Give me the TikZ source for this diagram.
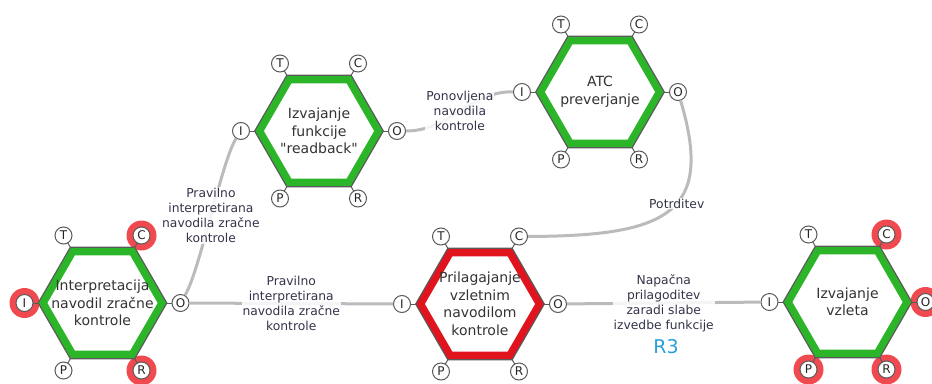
\documentclass[tikz,border=0pt]{standalone}
\usepackage{fontspec}
\setmainfont{DejaVu Sans}
% plain family without TeX ligatures, so " stays a straight quote
\newfontfamily\dvsans{DejaVu Sans}

\definecolor{fngreen}{HTML}{2DB52A}
\definecolor{fnred}{HTML}{E0141E}
\definecolor{hlred}{HTML}{F04A50}
\definecolor{flowgray}{HTML}{BBBBBB}
\definecolor{edgegray}{HTML}{5A5A5A}
\definecolor{labeltext}{HTML}{33344A}
\definecolor{r3blue}{HTML}{2AA0D8}

\pgfdeclarelayer{background}
\pgfsetlayers{background,main}

\tikzset{
  port/.style={circle, draw=edgegray, line width=1pt, fill=white,
    minimum size=17pt, inner sep=0pt, font=\dvsans\fontsize{12}{12}\selectfont, text=black!85},
  portlink/.style={draw=edgegray, line width=1pt},
  fntext/.style={align=center, font=\dvsans\fontsize{14}{17.5}\selectfont, text=black!80},
  flow/.style={draw=flowgray, line width=3pt},
  flowlabel/.style={align=center, font=\dvsans\fontsize{12.3}{15}\selectfont, text=labeltext,
    fill=white, fill opacity=0.85, text opacity=1, inner sep=1pt},
  hlring/.style={fill=hlred},
  r3tag/.style={font=\dvsans\fontsize{19}{19}\selectfont, text=r3blue},
  % one FRAM function: hexagon with its six aspects T, C, I, O, P, R
  pics/framfn/.style 2 args={code={
    \fill[edgegray] (-65,0) -- (-32.5,-56.29) -- (32.5,-56.29) -- (65,0)
      -- (32.5,56.29) -- (-32.5,56.29) -- cycle;
    \fill[#1] (-63.5,0) -- (-31.75,-54.99) -- (31.75,-54.99) -- (63.5,0)
      -- (31.75,54.99) -- (-31.75,54.99) -- cycle;
    \fill[white] (-55,0) -- (-27.5,-47.63) -- (27.5,-47.63) -- (55,0)
      -- (27.5,47.63) -- (-27.5,47.63) -- cycle;
    \draw[portlink] (-64,0) -- (-78,0);
    \draw[portlink] (64,0) -- (78,0);
    \draw[portlink] (-32,-55.4) -- (-39,-67.5);
    \draw[portlink] (32,-55.4) -- (39,-67.5);
    \draw[portlink] (-32,55.4) -- (-39,67.5);
    \draw[portlink] (32,55.4) -- (39,67.5);
    \node[fntext] (-name) at (0,0) {#2};
    \node[port] (-T) at (-39,-67.5) {T};
    \node[port] (-C) at (39,-67.5) {C};
    \node[port] (-I) at (-78,0) {I};
    \node[port] (-O) at (78,0) {O};
    \node[port] (-P) at (-39,67.5) {P};
    \node[port] (-R) at (39,67.5) {R};
  }}
}

\begin{document}
\begin{tikzpicture}[x=1pt, y=-1pt]
\useasboundingbox (0,0) rectangle (932,383);

% functions
\pic (h1) at (102.5,303) {framfn={fngreen}{Interpretacija\\navodil zračne\\kontrole}};
\pic (h2) at (319,131) {framfn={fngreen}{Izvajanje\\funkcije\\"readback"}};
\pic (h3) at (600,92) {framfn={fngreen}{ATC\\preverjanje}};
\pic (h4) at (480,304) {framfn={fnred}{Prilagajanje\\vzletnim\\navodilom\\kontrole}};
\pic (h5) at (847.5,302) {framfn={fngreen}{Izvajanje\\vzleta}};

% variable aspects
\begin{pgfonlayer}{background}
  \foreach \p in {h1-I, h1-C, h1-R, h5-C, h5-O, h5-P, h5-R}
    \fill[hlring] (\p.center) circle (15pt);
\end{pgfonlayer}

% couplings
\draw[flow] (h1-O) .. controls (200,270) and (222,160) .. node[flowlabel, pos=0.5] (lab1)
  {Pravilno\\interpretirana\\navodila zračne\\kontrole} (h2-I);
\draw[flow] (h1-O) -- node[flowlabel] (lab2)
  {Pravilno\\interpretirana\\navodila zračne\\kontrole} (h4-I);
\draw[flow] (h2-O) .. controls (450,131) and (470,91) .. node[flowlabel, pos=0.5] (lab3)
  {Ponovljena\\navodila\\kontrole} (h3-I);
\draw[flow] (h3-O) .. controls (715,215) and (665,236) .. node[flowlabel, pos=0.44] (lab4)
  {Potrditev} (h4-C);
\draw[flow] (h4-O) -- node[flowlabel] (lab5)
  {Napačna\\prilagoditev\\zaradi slabe\\izvedbe funkcije} (h5-I);
\node[r3tag] (r3) at (666,347) {R3};
\end{tikzpicture}
\end{document}
